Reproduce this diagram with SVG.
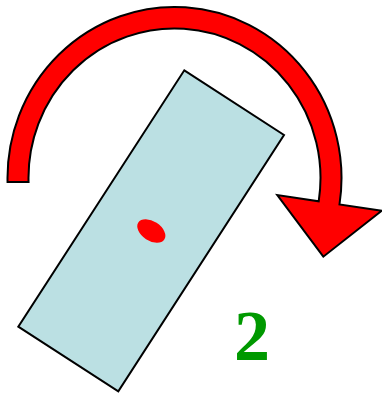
<svg xmlns="http://www.w3.org/2000/svg" width="382" height="395" viewBox="0 0 382 395">
<style>
.outline{stroke:#000;stroke-width:2;stroke-linejoin:miter}
.label{font-family:"Liberation Serif","Times New Roman",serif;font-weight:bold;font-size:72px;fill:#009900}
</style>
<rect width="382" height="395" fill="#fff"/>
<g id="rotation-arrow">
<path class="outline" fill="#ff0000" d="M 7.55 182 A 167 171 0 1 1 339.5 204.4 L 381.7 210.7 L 323.3 256.7 L 277.3 195 L 318.7 201.3 A 146 149.5 0 1 0 28.55 182 Z"/>
</g>
<g id="body">
<polygon class="outline" fill="#bbe0e3" points="184.3,70.3 284,135 118.3,391.3 18.3,326.7"/>
<ellipse cx="151.3" cy="231" rx="15.5" ry="9.7" fill="#ff0000" transform="rotate(33 151.3 231)"/>
</g>
<g id="label">
<text class="label" x="252" y="360" text-anchor="middle">2</text>
</g>
</svg>
